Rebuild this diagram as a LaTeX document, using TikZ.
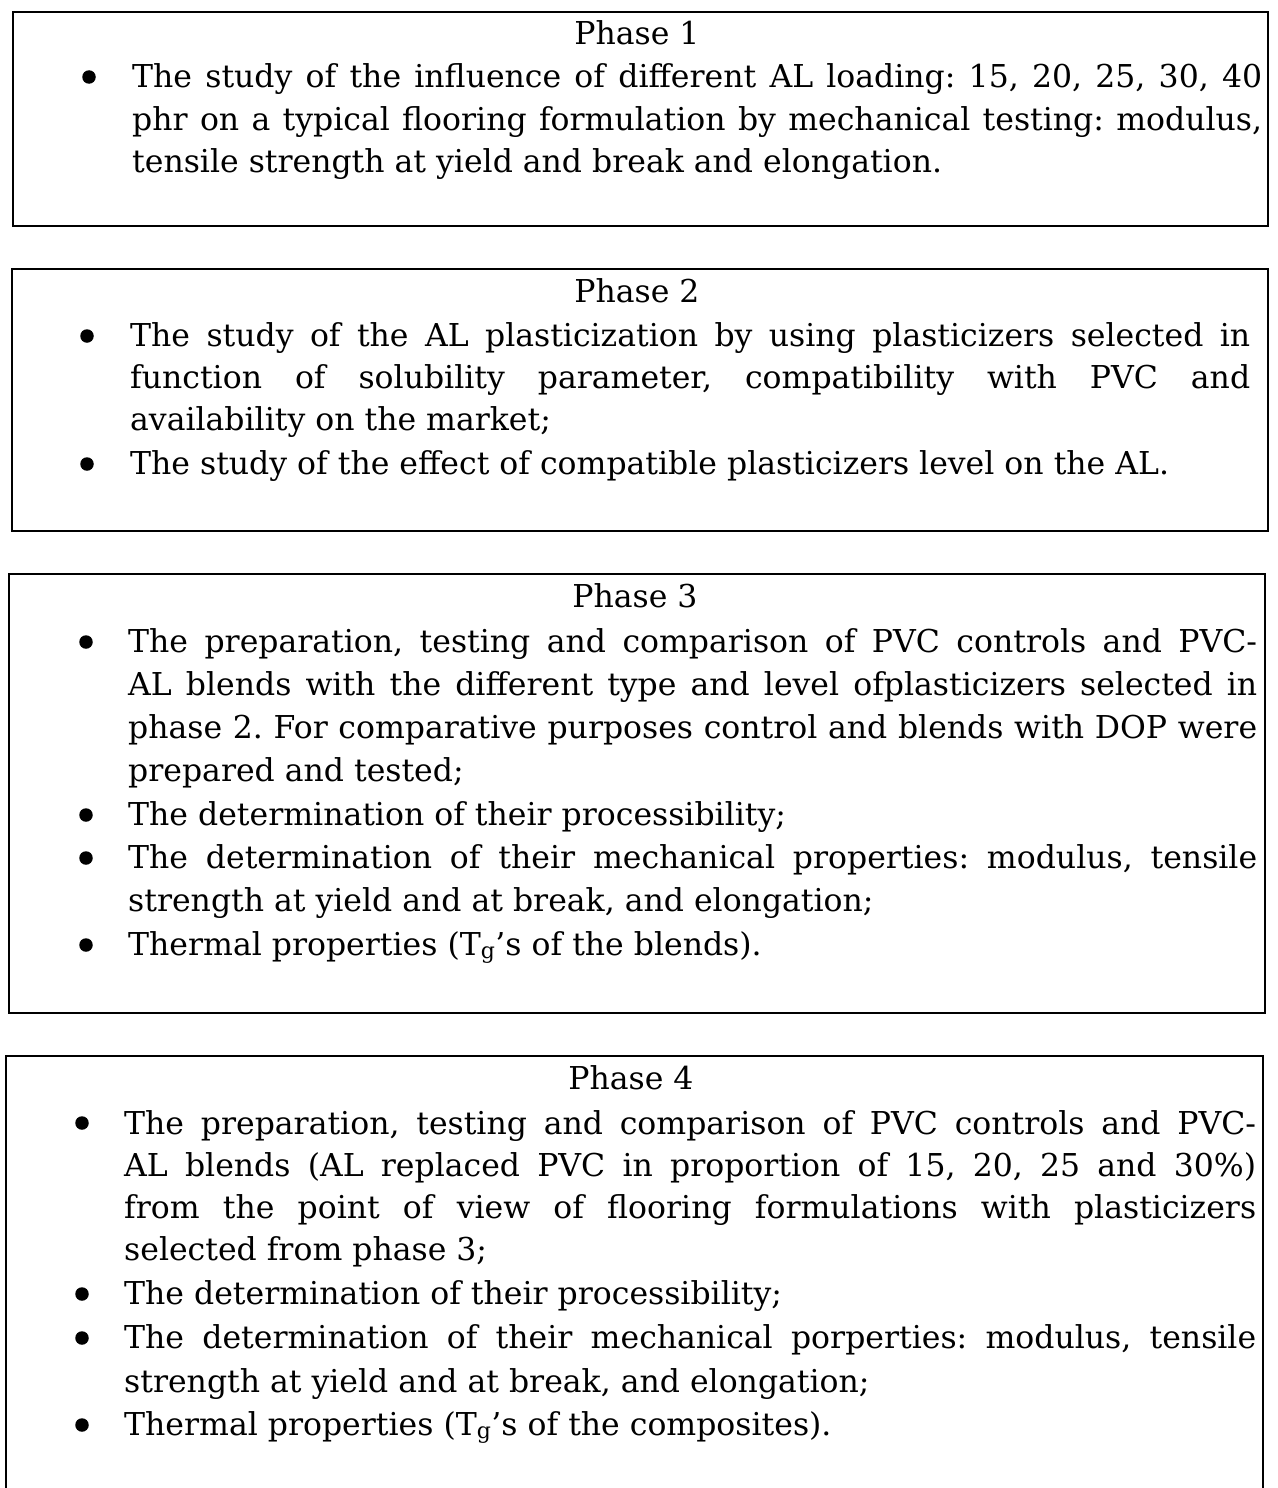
\documentclass[tikz,border=0pt]{standalone}
\usepackage{fontspec}
\setmainfont{DejaVu Serif}
\frenchspacing
\newcommand\jline[2]{\makebox[#1pt][s]{#2}}
\tikzset{
  boxframe/.style={draw, line width=1.6pt, inner sep=0pt, anchor=north west},
  phtitle/.style={anchor=base, inner sep=0pt},
  txtline/.style={anchor=base west, inner sep=0pt},
  bul/.style={circle, fill, inner sep=0pt, minimum size=13.5pt},
}
\begin{document}
\begin{tikzpicture}[x=1pt, y=-1pt, font=\fontsize{31.5}{43}\selectfont\frenchspacing]
\useasboundingbox (0,0) rectangle (1277,1488);
% ---------- Phase 1 ----------
\node[boxframe, minimum width=1255pt, minimum height=214pt] (b1) at (12,11) {};
\node[phtitle] (t1) at (637,45) {Phase 1};
\node[bul] (d11) at (89,77) {};
\node[txtline] (l11) at (132,88) {\jline{1130}{The study of the influence of different AL loading: 15, 20, 25, 30, 40}};
\node[txtline] (l12) at (132,130) {\jline{1130}{phr on a typical flooring formulation by mechanical testing: modulus,}};
\node[txtline] (l13) at (132,172) {tensile strength at yield and break and elongation.};
% ---------- Phase 2 ----------
\node[boxframe, minimum width=1256pt, minimum height=262pt] (b2) at (11,268) {};
\node[phtitle] (t2) at (637,302) {Phase 2};
\node[bul] (d21) at (87,336) {};
\node[txtline] (l21) at (130,346) {\jline{1120}{The study of the AL plasticization by using plasticizers selected in}};
\node[txtline] (l22) at (130,388) {\jline{1120}{function of solubility parameter, compatibility with PVC and}};
\node[txtline] (l23) at (130,430) {availability on the market;};
\node[bul] (d22) at (87,464) {};
\node[txtline] (l24) at (130,474) {The study of the effect of compatible plasticizers level on the AL.};
% ---------- Phase 3 ----------
\node[boxframe, minimum width=1256pt, minimum height=439pt] (b3) at (8,573) {};
\node[phtitle] (t3) at (635,607) {Phase 3};
\node[bul] (d31) at (86,642) {};
\node[txtline] (l31) at (128,652) {\jline{1129}{The preparation, testing and comparison of PVC controls and PVC-}};
\node[txtline] (l32) at (128,695) {\jline{1129}{AL blends with the different type and level ofplasticizers selected in}};
\node[txtline] (l33) at (128,738) {\jline{1129}{phase 2. For comparative purposes control and blends with DOP were}};
\node[txtline] (l34) at (128,781) {prepared and tested;};
\node[bul] (d32) at (86,815) {};
\node[txtline] (l35) at (128,825) {The determination of their processibility;};
\node[bul] (d33) at (86,858) {};
\node[txtline] (l36) at (128,868) {\jline{1129}{The determination of their mechanical properties: modulus, tensile}};
\node[txtline] (l37) at (128,911) {strength at yield and at break, and elongation;};
\node[bul] (d34) at (86,945) {};
\node[txtline] (l38) at (128,955) {Thermal properties (T\textsubscript{g}’s of the blends).};
% ---------- Phase 4 ----------
\node[boxframe, minimum width=1257pt, minimum height=460pt] (b4) at (5,1055) {};
\node[phtitle] (t4) at (631,1089) {Phase 4};
\node[bul] (d41) at (82,1123) {};
\node[txtline] (l41) at (124,1134) {\jline{1132}{The preparation, testing and comparison of PVC controls and PVC-}};
\node[txtline] (l42) at (124,1176) {\jline{1132}{AL blends (AL replaced PVC in proportion of 15, 20, 25 and 30\%)}};
\node[txtline] (l43) at (124,1218) {\jline{1132}{from the point of view of flooring formulations with plasticizers}};
\node[txtline] (l44) at (124,1260) {selected from phase 3;};
\node[bul] (d42) at (82,1294) {};
\node[txtline] (l45) at (124,1304) {The determination of their processibility;};
\node[bul] (d43) at (82,1338) {};
\node[txtline] (l46) at (124,1348) {\jline{1132}{The determination of their mechanical porperties: modulus, tensile}};
\node[txtline] (l47) at (124,1392) {strength at yield and at break, and elongation;};
\node[bul] (d44) at (82,1425) {};
\node[txtline] (l48) at (124,1435) {Thermal properties (T\textsubscript{g}’s of the composites).};
\end{tikzpicture}
\end{document}
